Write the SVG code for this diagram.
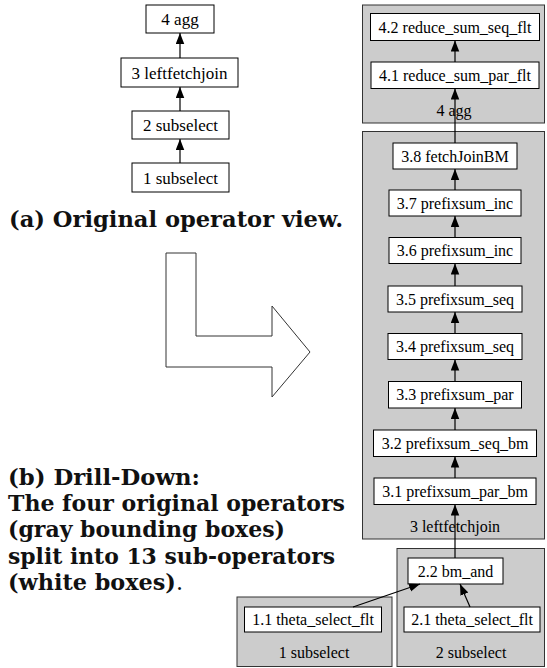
<svg xmlns="http://www.w3.org/2000/svg" width="547" height="668" viewBox="0 0 547 668">
<defs>
<style>
.n rect{fill:#fff;stroke:#000;stroke-width:1}
.c rect{fill:#cccccc;stroke:#333;stroke-width:1}
.t{font-family:"Liberation Serif","Times New Roman",serif;font-size:16px;fill:#000;text-anchor:middle}
.tl{font-family:"Liberation Serif","Times New Roman",serif;font-size:17px;fill:#000;text-anchor:middle}
.cap{font-family:"DejaVu Serif","Liberation Serif",serif;font-weight:bold;font-size:22px;fill:#111}
.e line{stroke:#000;stroke-width:1.2;marker-end:url(#ah)}
</style>
<marker id="ah" markerUnits="userSpaceOnUse" markerWidth="12" markerHeight="10" refX="11" refY="4.25" orient="auto">
<path d="M0,0 L11,4.25 L0,8.5 z" fill="#000"/>
</marker>
</defs>

<!-- Left: original operator view -->
<g id="o4" class="n"><rect x="146" y="5" width="68" height="28"/><text class="tl" x="180" y="25">4 agg</text></g>
<g id="o3" class="n"><rect x="121" y="58" width="117" height="29"/><text class="tl" x="179.5" y="78.5">3 leftfetchjoin</text></g>
<g id="o2" class="n"><rect x="132" y="111" width="97" height="28"/><text class="tl" x="180.5" y="131">2 subselect</text></g>
<g id="o1" class="n"><rect x="132" y="163" width="97" height="29"/><text class="tl" x="180.5" y="183.5">1 subselect</text></g>
<g id="oedges" class="e">
<line x1="180" y1="163" x2="180" y2="139"/>
<line x1="180" y1="111" x2="180" y2="87"/>
<line x1="180" y1="58" x2="180" y2="33"/>
</g>

<text class="cap" x="9" y="227" textLength="334" lengthAdjust="spacingAndGlyphs">(a) Original operator view.</text>

<!-- Big L arrow -->
<polygon points="166,253 196,253 196,336 272,336 272,306 310,352 272,397 272,367 166,367" fill="#fff" stroke="#333" stroke-width="1"/>

<g id="caption-b" class="cap">
<text x="8" y="485" textLength="192" lengthAdjust="spacingAndGlyphs">(b) Drill-Down:</text>
<text x="8" y="511" textLength="337" lengthAdjust="spacingAndGlyphs">The four original operators</text>
<text x="8" y="537" textLength="277" lengthAdjust="spacingAndGlyphs">(gray bounding boxes)</text>
<text x="8" y="563.5" textLength="327" lengthAdjust="spacingAndGlyphs">split into 13 sub-operators</text>
<text x="8" y="589.5" textLength="175" lengthAdjust="spacingAndGlyphs">(white boxes)<tspan font-weight="normal">.</tspan></text>
</g>

<!-- Clusters -->
<g id="c4" class="c"><rect x="362.5" y="5" width="182" height="118"/><text class="t" x="454" y="115.5">4 agg</text></g>
<g id="c3" class="c"><rect x="362.5" y="131.5" width="182" height="407.5"/><text class="t" x="455" y="531.5">3 leftfetchjoin</text></g>
<g id="c2" class="c"><rect x="397" y="548.5" width="147.5" height="118"/><text class="t" x="471" y="657.5">2 subselect</text></g>
<g id="c1" class="c"><rect x="237" y="597" width="155" height="69.5"/><text class="t" x="314" y="657.5">1 subselect</text></g>

<!-- Sub-operator nodes -->
<g id="n42" class="n"><rect x="370.5" y="13.5" width="169" height="27"/><text class="t" x="455" y="32.5">4.2 reduce_sum_seq_flt</text></g>
<g id="n41" class="n"><rect x="371" y="62" width="168" height="26.5"/><text class="t" x="455" y="80.5">4.1 reduce_sum_par_flt</text></g>
<g id="n38" class="n"><rect x="393" y="143" width="124" height="26"/><text class="t" x="455" y="161.5">3.8 fetchJoinBM</text></g>
<g id="n37" class="n"><rect x="389" y="190" width="132" height="26"/><text class="t" x="455" y="208.5">3.7 prefixsum_inc</text></g>
<g id="n36" class="n"><rect x="389" y="237.5" width="132" height="26"/><text class="t" x="455" y="256">3.6 prefixsum_inc</text></g>
<g id="n35" class="n"><rect x="388" y="286" width="134" height="26"/><text class="t" x="455" y="304.5">3.5 prefixsum_seq</text></g>
<g id="n34" class="n"><rect x="388" y="333.5" width="134" height="26"/><text class="t" x="455" y="352">3.4 prefixsum_seq</text></g>
<g id="n33" class="n"><rect x="388.5" y="381.5" width="133" height="26.5"/><text class="t" x="455" y="400">3.3 prefixsum_par</text></g>
<g id="n32" class="n"><rect x="373.5" y="430" width="163" height="26.5"/><text class="t" x="455" y="448.5">3.2 prefixsum_seq_bm</text></g>
<g id="n31" class="n"><rect x="374" y="478" width="162" height="26.5"/><text class="t" x="455" y="496.5">3.1 prefixsum_par_bm</text></g>
<g id="n22" class="n"><rect x="408" y="558" width="95" height="26"/><text class="t" x="455.5" y="576.5">2.2 bm_and</text></g>
<g id="n21" class="n"><rect x="404" y="607" width="136" height="25"/><text class="t" x="472" y="625">2.1 theta_select_flt</text></g>
<g id="n11" class="n"><rect x="244.5" y="607" width="137" height="25"/><text class="t" x="313" y="625">1.1 theta_select_flt</text></g>

<!-- Connectors -->
<g id="edges" class="e">
<line x1="455" y1="62" x2="455" y2="40.5"/>
<line x1="455" y1="143" x2="455" y2="88.5"/>
<line x1="455" y1="190" x2="455" y2="169"/>
<line x1="455" y1="237.5" x2="455" y2="216"/>
<line x1="455" y1="286" x2="455" y2="263.5"/>
<line x1="455" y1="333.5" x2="455" y2="312"/>
<line x1="455" y1="381.5" x2="455" y2="359.5"/>
<line x1="455" y1="430" x2="455" y2="408"/>
<line x1="455" y1="478" x2="455" y2="456.5"/>
<line x1="455" y1="558" x2="455" y2="504.5"/>
<line x1="353" y1="607" x2="420" y2="584"/>
<line x1="470" y1="607" x2="460" y2="584"/>
</g>
</svg>
